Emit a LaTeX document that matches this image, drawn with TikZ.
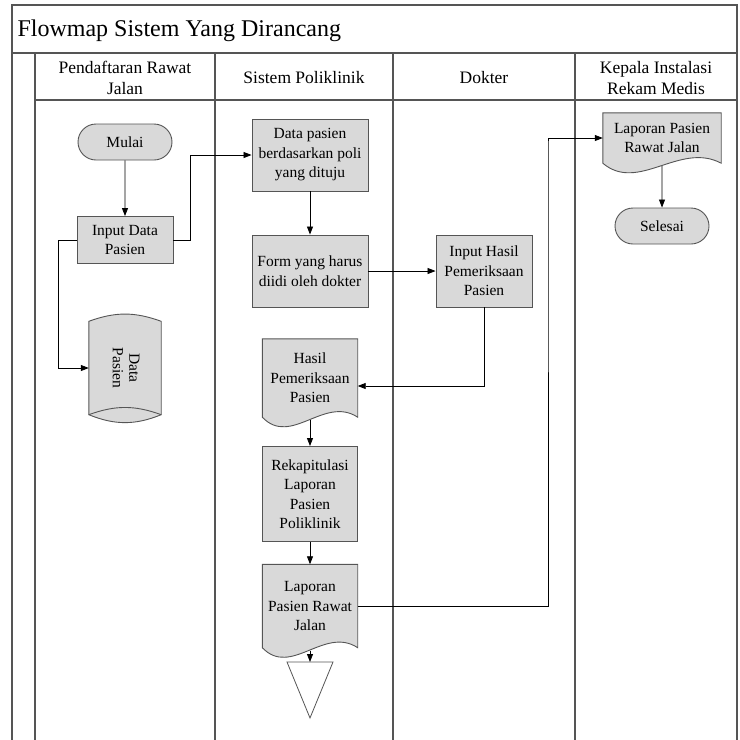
\documentclass[tikz,border=0pt]{standalone}
\usepackage{fontspec}
\setmainfont{Liberation Serif}
\usetikzlibrary{arrows.meta,shapes.misc,calc,backgrounds}
\definecolor{boxfill}{RGB}{217,217,217}
\definecolor{edgegray}{RGB}{85,85,85}

\begin{document}
\begin{tikzpicture}[x=1pt, y=-1pt,
  lane/.style={draw=edgegray, line width=1.1pt},
  boxfont/.style={font=\fontsize{15.5}{19.5}\selectfont},
  proc/.style={draw=edgegray, fill=boxfill, line width=0.9pt, align=center, inner sep=1pt, boxfont},
  term/.style={proc, rounded rectangle, minimum width=96pt, minimum height=36pt},
  docbox/.style={align=center, inner sep=1pt, boxfont},
  docline/.style={draw=edgegray, fill=boxfill, line width=0.9pt},
  hdr/.style={align=center, font=\fontsize{17.5}{20.5}\selectfont},
  flow/.style={-{Triangle[length=8pt,width=6pt]}, line width=0.8pt}]
\useasboundingbox (0,0) rectangle (740,740);
% frame and lanes
\draw[lane] (12,740) -- (12,5) -- (737,5) -- (737,740); \draw[lane] (12,53) -- (737,53); \draw[lane] (35,100) -- (737,100);
\foreach \x in {35,215,393,575} \draw[lane] (\x,53) -- (\x,740);
\node[anchor=west, font=\fontsize{24}{28}\selectfont] (title) at (14,31) {Flowmap Sistem Yang Dirancang};
\node[hdr] (hpend) at (125,78) {Pendaftaran Rawat\\Jalan}; \node[hdr] (hsis) at (304,78) {Sistem Poliklinik};
\node[hdr] (hdok) at (484,78) {Dokter}; \node[hdr] (hkep) at (656,78) {Kepala Instalasi\\Rekam Medis};
% steps
\node[term] (mulai) at (125,142) {Mulai};
\node[proc, minimum width=96pt, minimum height=47pt] (inpdata) at (125,240) {Input Data\\Pasien};
\node[boxfont, minimum width=72pt, minimum height=93pt, inner sep=0pt] (datapas) at (125,368) {\rotatebox{-90}{\begin{tabular}{@{}c@{}}Data\\[-3pt]Pasien\end{tabular}}};
\node[proc, minimum width=116pt, minimum height=72pt] (datapoli) at (310,155) {Data pasien\\berdasarkan poli\\yang dituju};
\node[proc, minimum width=116pt, minimum height=72pt] (form) at (310,271) {Form yang harus\\diidi oleh dokter};
\node[proc, minimum width=96pt, minimum height=72pt] (inphasil) at (484,271) {Input Hasil\\Pemeriksaan\\Pasien};
\node[docbox, minimum width=95pt, minimum height=78pt] (hasil) at (310,378) {Hasil\\Pemeriksaan\\Pasien};
\node[proc, minimum width=95pt, minimum height=95pt] (rekap) at (310,494) {Rekapitulasi\\Laporan\\Pasien\\Poliklinik};
\node[docbox, minimum width=95pt, minimum height=83pt] (lapjalan) at (310,606) {Laporan\\Pasien Rawat\\Jalan};
\node[docbox, minimum width=118pt, minimum height=50pt] (lapkepala) at (662,138) {Laporan Pasien\\Rawat Jalan};
\node[term] (selesai) at (662,226) {Selesai};
\coordinate (offtop) at (310,662); \coordinate (jog) at (548,143);
\draw[draw=edgegray, fill=white, line width=0.8pt] (287,662) -- (333,662) -- (310,718) -- cycle;
\begin{scope}[on background layer]
\foreach \n in {hasil,lapjalan,lapkepala}
  \draw[docline] (\n.north west) -- (\n.north east) -- (\n.south east) .. controls ($(\n.south west)!0.65!(\n.south east)+(0,-22)$) and ($(\n.south west)!0.3!(\n.south east)+(0,30)$) .. (\n.south west) -- cycle;
\draw[docline] (datapas.north west) to[bend left=20] (datapas.north east) -- (datapas.south east) to[bend left=22] (datapas.south west) -- cycle;
\draw[edgegray, line width=0.9pt] (datapas.south west) to[bend left=20] (datapas.south east);
\end{scope}
% connectors
\draw[flow] (mulai) -- (inpdata); \draw[flow] (inpdata.east) -- ++(17,0) |- (datapoli.west); \draw[flow] (inpdata.west) -- ++(-18,0) |- (datapas.west);
\draw[flow] (datapoli) -- (form); \draw[flow] (form) -- (inphasil); \draw[flow] (inphasil.south) |- ([yshift=-8pt]hasil.east);
\draw[flow] ([yshift=-3pt]hasil.south) -- (rekap); \draw[flow] (rekap) -- (lapjalan.north); \draw[flow] ([yshift=-3pt]lapjalan.south) -- (offtop);
\draw[flow] (lapjalan.east) -| (jog) |- (lapkepala.west); \draw[flow] ([yshift=-3pt]lapkepala.south) -- (selesai);
\end{tikzpicture}
\end{document}
